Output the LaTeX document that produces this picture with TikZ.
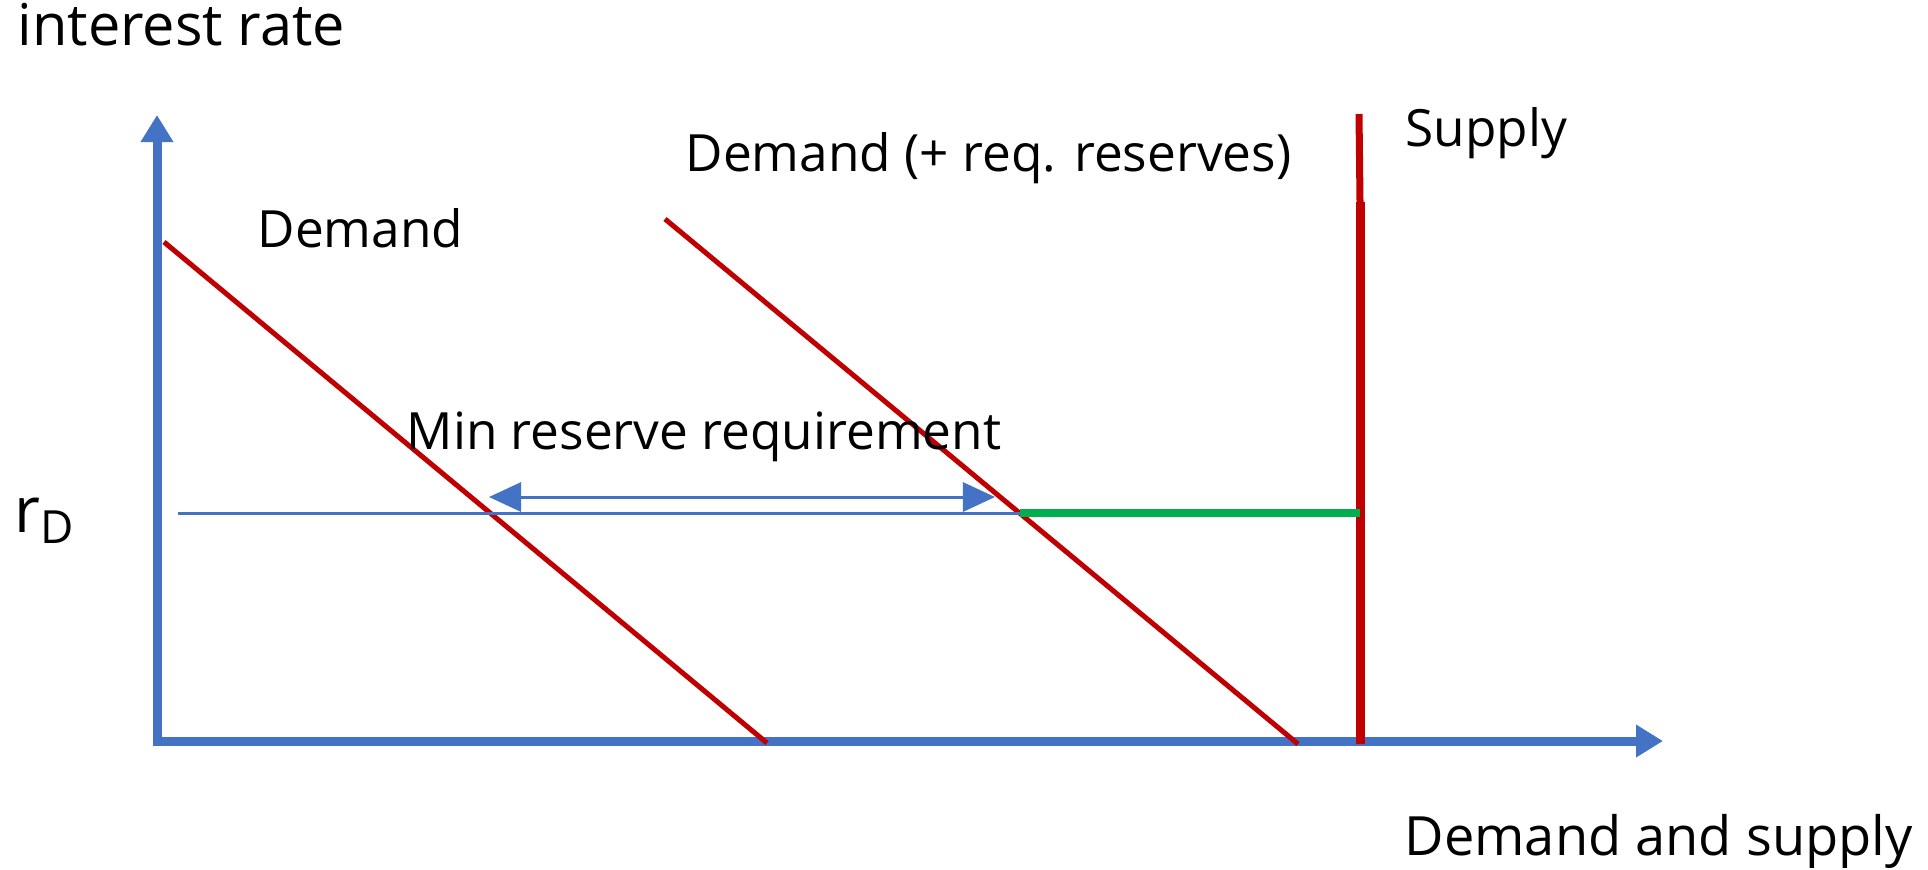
\documentclass[tikz,border=0pt]{standalone}
\usepackage{fontspec}
\setmainfont{Open Sans}
\usetikzlibrary{arrows.meta}

\definecolor{axisblue}{HTML}{4472C4}
\definecolor{curvered}{HTML}{C00000}
\definecolor{gapgreen}{HTML}{00B050}

\begin{document}
\begin{tikzpicture}[x=0.01cm, y=-0.01cm,
    axis/.style={axisblue, line width=0.09cm, -{Triangle[length=0.27cm, width=0.31cm]}},
    curve/.style={curvered, line width=0.05cm},
    lbl/.style={font=\fontsize{14.6}{17}\selectfont, anchor=base west, inner sep=0pt}]

    \useasboundingbox (0,0) rectangle (1928,869);

    % axes
    \coordinate (o) at (157,746);
    \coordinate (ytip) at (157,115);
    \coordinate (xo) at (153,741);
    \coordinate (xtip) at (1663,741);
    \draw[axis] (o) -- (ytip);
    \draw[axis] (xo) -- (xtip);

    % demand curves and supply
    \coordinate (d0) at (164,242);
    \coordinate (d1) at (767,743);
    \coordinate (dr0) at (665,219);
    \coordinate (dr1) at (1298,744);
    \coordinate (s0) at (1360,744);
    \coordinate (s1) at (1360,202);
    \coordinate (s2) at (1359,114);
    \draw[curve] (d0) -- (d1);
    \draw[curve] (dr0) -- (dr1);
    \draw[curvered, line width=0.09cm] (s0) -- (s1);
    \draw[curvered, line width=0.07cm] (s1) -- (s2);

    % deposit rate level
    \coordinate (r0) at (178,513);
    \coordinate (eq) at (1020,513);
    \coordinate (se) at (1360,513);
    \draw[axisblue, line width=0.03cm] (r0) -- (eq);
    \draw[gapgreen, line width=0.08cm] (eq) -- (se);

    % required reserves gap
    \coordinate (m0) at (489,497);
    \coordinate (m1) at (995,497);
    \draw[axisblue, line width=0.03cm, {Triangle[length=0.32cm, width=0.29cm]}-{Triangle[length=0.32cm, width=0.29cm]}] (m0) -- (m1);

    % labels
    \node[lbl, font=\fontsize{16.4}{19}\selectfont] (ir) at (17,45) {interest rate};
    \node[lbl] (sup) at (1405,146) {Supply};
    \node[lbl] (dreq) at (685,171) {Demand (+ req. reserves)};
    \node[lbl] (dem) at (257,247) {Demand};
    \node[lbl] (mrr) at (406,449) {Min reserve requirement};
    \node[lbl, font=\fontsize{15.4}{18}\selectfont] (ds) at (1404,855) {Demand and supply};
    \node[lbl, font=\fontsize{18}{20}\selectfont] (rd) at (14,532) {r\raisebox{-0.35ex}{\fontsize{13}{15}\selectfont D}};

\end{tikzpicture}
\end{document}
